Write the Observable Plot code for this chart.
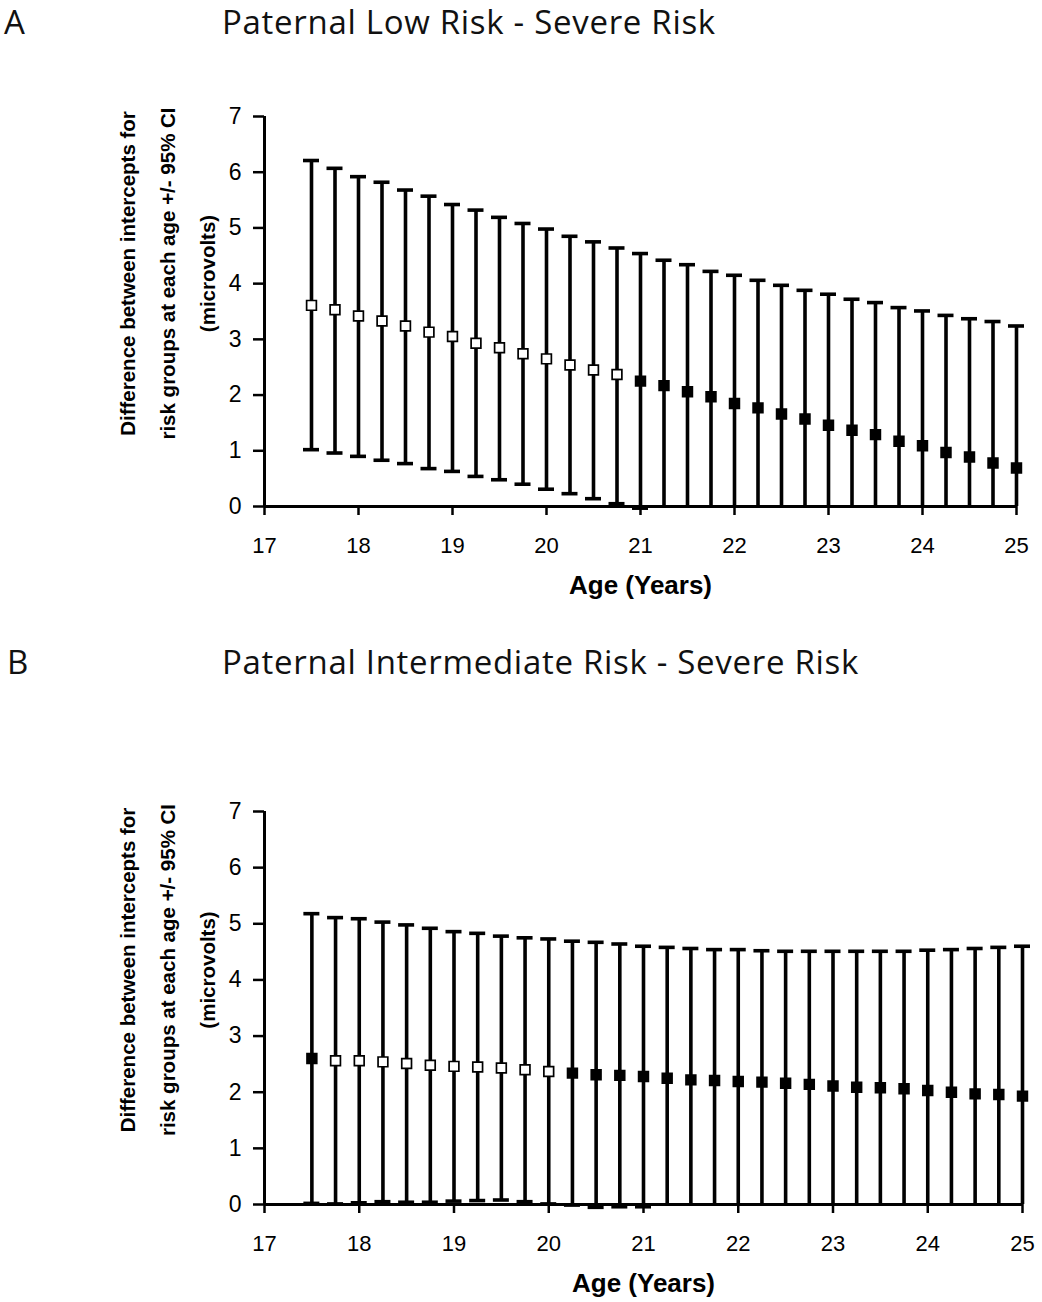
<!DOCTYPE html>
<html>
<head>
<meta charset="utf-8">
<script src="https://cdn.jsdelivr.net/npm/d3@7"></script>
<script src="https://cdn.jsdelivr.net/npm/@observablehq/plot@0.6"></script>
<style>
  html, body { margin: 0; padding: 0; background: #fff; }
  #wrap { position: relative; width: 1042px; height: 1302px; overflow: hidden; }
  .hdr { position: absolute; font-family: "Open Sans", Lato, sans-serif; font-size: 33px; line-height: 33px; letter-spacing: 0.7px; color: #111; white-space: nowrap; }
  .plot { position: absolute; left: 0; }
</style>
</head>
<body>
<div id="wrap">
  <div class="hdr" style="left:4px; top:5px;">A</div>
  <div class="hdr" style="left:222px; top:5px;">Paternal Low Risk - Severe Risk</div>
  <div class="hdr" style="left:7px; top:645px;">B</div>
  <div class="hdr" style="left:222px; top:645px;">Paternal Intermediate Risk - Severe Risk</div>
  <div id="plotA" class="plot" style="top:60px;"></div>
  <div id="plotB" class="plot" style="top:760px;"></div>
</div>
<script>
// ---- data ----
const ages = [17.5, 17.75, 18, 18.25, 18.5, 18.75, 19, 19.25, 19.5, 19.75, 20, 20.25, 20.5, 20.75,
              21, 21.25, 21.5, 21.75, 22, 22.25, 22.5, 22.75, 23, 23.25, 23.5, 23.75, 24, 24.25, 24.5, 24.75, 25];

// Panel A: Paternal Low Risk - Severe Risk
const meanA  = [3.61, 3.53, 3.42, 3.33, 3.24, 3.13, 3.05, 2.93, 2.85, 2.74, 2.65, 2.54, 2.45, 2.37,
                2.25, 2.17, 2.06, 1.97, 1.85, 1.77, 1.66, 1.57, 1.46, 1.37, 1.29, 1.17, 1.09, 0.97, 0.89, 0.78, 0.69];
const upperA = [6.21, 6.07, 5.92, 5.82, 5.68, 5.57, 5.42, 5.32, 5.19, 5.08, 4.98, 4.85, 4.75, 4.64,
                4.54, 4.42, 4.34, 4.22, 4.15, 4.06, 3.97, 3.88, 3.81, 3.72, 3.66, 3.57, 3.51, 3.43, 3.37, 3.32, 3.24];
const lowerA = [1.02, 0.96, 0.90, 0.83, 0.77, 0.68, 0.63, 0.54, 0.48, 0.40, 0.31, 0.23, 0.14, 0.05,
                -0.03, -0.08, -0.22, -0.28, -0.45, -0.52, -0.65, -0.74, -0.89, -0.98, -1.08, -1.23, -1.33, -1.49, -1.59, -1.76, -1.86];
const filledA = [0,0,0,0,0,0,0,0,0,0,0,0,0,0, 1,1,1,1,1,1,1,1,1,1,1,1,1,1,1,1,1];

// Panel B: Paternal Intermediate Risk - Severe Risk
const meanB  = [2.60, 2.56, 2.56, 2.54, 2.51, 2.48, 2.46, 2.45, 2.43, 2.40, 2.37, 2.34, 2.31, 2.30,
                2.28, 2.25, 2.22, 2.21, 2.19, 2.18, 2.16, 2.14, 2.11, 2.09, 2.08, 2.06, 2.03, 2.00, 1.97, 1.96, 1.93];
const upperB = [5.18, 5.11, 5.09, 5.03, 4.98, 4.92, 4.86, 4.83, 4.78, 4.75, 4.73, 4.69, 4.67, 4.64,
                4.60, 4.58, 4.56, 4.54, 4.54, 4.52, 4.51, 4.51, 4.51, 4.51, 4.51, 4.51, 4.53, 4.54, 4.56, 4.58, 4.60];
const lowerB = [0.02, 0.01, 0.03, 0.05, 0.04, 0.04, 0.06, 0.07, 0.08, 0.05, 0.01, -0.01, -0.05, -0.04,
                -0.04, -0.08, -0.12, -0.12, -0.16, -0.16, -0.19, -0.23, -0.29, -0.33, -0.35, -0.39, -0.47, -0.54, -0.62, -0.66, -0.74];
const filledB = [1, 0,0,0,0,0,0,0,0,0,0, 1,1,1,1,1,1,1,1,1,1,1,1,1,1,1,1,1,1,1,1];

const xTicks = [17, 18, 19, 20, 21, 22, 23, 24, 25];
const yTicks = [0, 1, 2, 3, 4, 5, 6, 7];
const xLabel = "Age (Years)";
const yLabel = "Difference between intercepts for\nrisk groups at each age +/- 95% CI\n(microvolts)";

function rows(mean, upper, lower, filled) {
  return ages.map((a, i) => ({age: a, mean: mean[i], upper: upper[i], lower: lower[i], filled: filled[i] === 1}));
}

function panel(data, opts) {
  const ink = "#000";
  const sw = 3.6;
  return Plot.plot({
    width: 1042,
    height: opts.height,
    marginLeft: 264,
    marginRight: opts.marginRight,
    marginTop: opts.marginTop,
    marginBottom: opts.marginBottom,
    x: {domain: [17, 25]},
    y: {domain: [0, 7]},
    style: {fontFamily: "'Liberation Sans', Arial, sans-serif", color: ink, background: "white"},
    marks: [
      // error bar stems (the chart's y axis starts at 0, so stems stop there)
      Plot.ruleX(data, {x: "age", y1: d => Math.max(d.lower, 0), y2: "upper", stroke: ink, strokeWidth: sw}),
      // caps
      Plot.ruleY(data, {y: "upper", x1: "age", x2: "age", insetLeft: -8, insetRight: -8, stroke: ink, strokeWidth: sw}),
      Plot.ruleY(data.filter(d => d.lower > -0.06), {y: "lower", x1: "age", x2: "age", insetLeft: -8, insetRight: -8, stroke: ink, strokeWidth: sw}),
      // axis lines
      Plot.ruleY([0], {stroke: ink, strokeWidth: 3}),
      Plot.ruleX([17], {stroke: ink, strokeWidth: 3}),
      Plot.axisX({ticks: xTicks, tickSize: 9, tickPadding: 22, fontSize: 22, strokeWidth: 2.5, tickFormat: d => String(d), label: null}),
      Plot.axisY({ticks: yTicks, tickSize: 11, tickPadding: 12, fontSize: 23, strokeWidth: 2.5, tickFormat: d => String(d), label: null}),
      // means
      Plot.dot(data, {x: "age", y: "mean", symbol: "square", r: 5.5, fill: d => d.filled ? ink : "white", stroke: ink, strokeWidth: 1.7}),
      // axis titles
      Plot.text([xLabel], {frameAnchor: "bottom", dy: 87, fontSize: 26, fontWeight: "bold", fill: ink}),
      Plot.text([yLabel], {frameAnchor: "left", dx: -102, dy: opts.labelDy, rotate: -90, fontSize: 20.5, fontWeight: "bold", lineHeight: 1.95, fill: ink, textAnchor: "middle"})
    ]
  });
}

document.getElementById("plotA").append(panel(rows(meanA, upperA, lowerA, filledA),
  {height: 560, marginTop: 56, marginBottom: 114, marginRight: 26, labelDy: -38}));
document.getElementById("plotB").append(panel(rows(meanB, upperB, lowerB, filledB),
  {height: 542, marginTop: 51, marginBottom: 98, marginRight: 20, labelDy: -38}));
</script>
</body>
</html>
